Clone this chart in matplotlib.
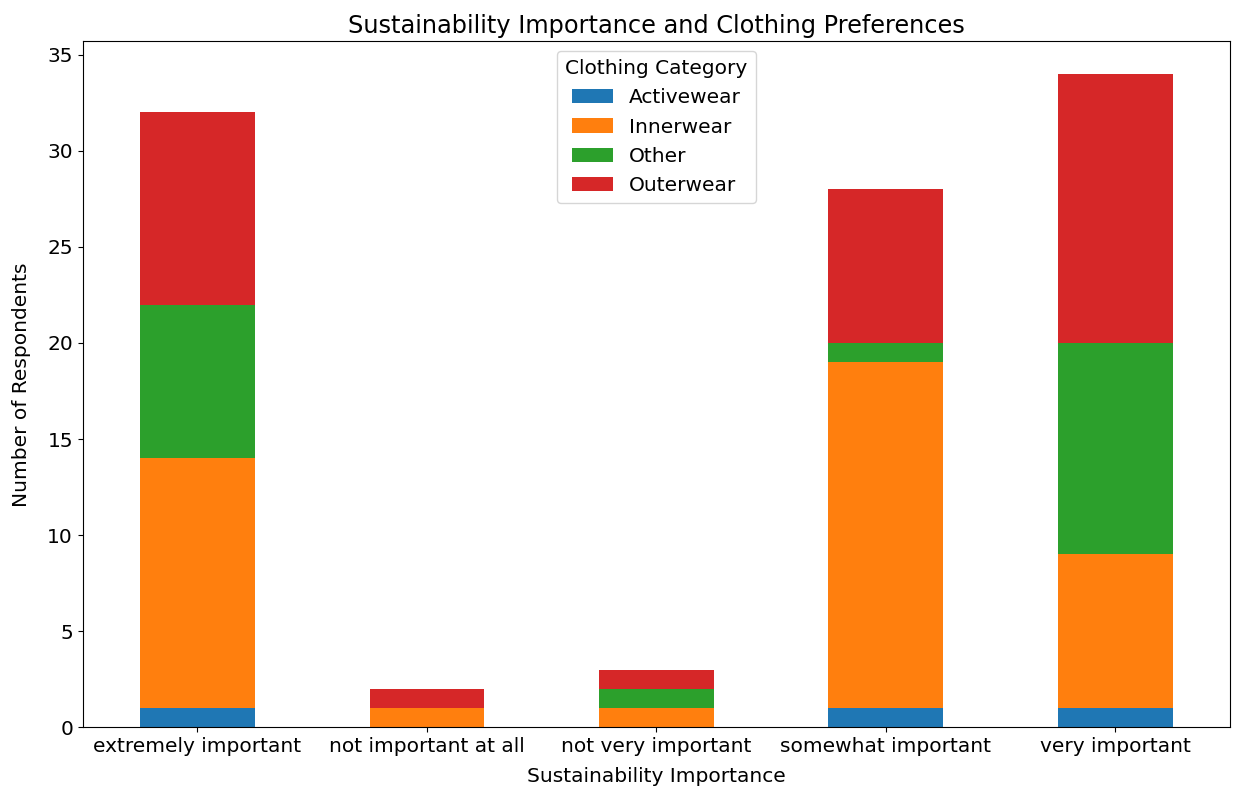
import numpy as np
import matplotlib.pyplot as plt

# values
importance = ['extremely important', 'not important at all', 'not very important',
              'somewhat important', 'very important']
categories = ['Activewear', 'Innerwear', 'Other', 'Outerwear']
activewear = [1, 0, 0, 1, 1]
innerwear = [13, 1, 1, 18, 8]
other = [8, 0, 1, 1, 11]
outerwear = [10, 1, 1, 8, 14]

series = [activewear, innerwear, other, outerwear]
colors = ['#1f77b4', '#ff7f0e', '#2ca02c', '#d62728']

fig, ax = plt.subplots(figsize=(12.35, 7.94), dpi=100)
x = np.arange(len(importance))
bottom = np.zeros(len(importance))
for name, vals, c in zip(categories, series, colors):
    ax.bar(x, vals, 0.5, bottom=bottom, color=c, label=name)
    bottom += np.array(vals)

ax.set_xticks(x)
ax.set_xticklabels(importance, fontsize=14.5)
ax.tick_params(axis='y', labelsize=14.5)
ax.set_xlim(-0.5, len(importance) - 0.5)
ax.set_ylim(0, 35.7)
ax.set_xlabel('Sustainability Importance', fontsize=14.5, labelpad=8)
ax.set_ylabel('Number of Respondents', fontsize=14.5, labelpad=12)
ax.set_title('Sustainability Importance and Clothing Preferences', fontsize=17.3)
ax.legend(title='Clothing Category', loc='upper center', fontsize=14.5, title_fontsize=14.5)

plt.subplots_adjust(left=0.067, right=0.996, top=0.948, bottom=0.084)
plt.savefig('out.png')
